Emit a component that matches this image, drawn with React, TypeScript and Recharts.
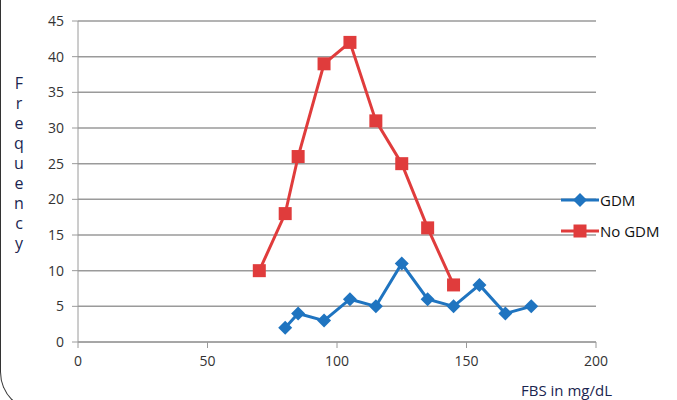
import { LineChart, Line, XAxis, YAxis, CartesianGrid } from "recharts";

const gdmFbs = [80, 85, 95, 105, 115, 125, 135, 145, 155, 165, 175];
const gdmFreq = [2, 4, 3, 6, 5, 11, 6, 5, 8, 4, 5];
const noGdmFbs = [70, 80, 85, 95, 105, 115, 125, 135, 145];
const noGdmFreq = [10, 18, 26, 39, 42, 31, 25, 16, 8];
const xTicks = [0, 50, 100, 150, 200];
const yTicks = [0, 5, 10, 15, 20, 25, 30, 35, 40, 45];
const yLabel = "Frequency";

const BLUE = "#1f74c0";
const RED = "#e03c3c";
const FONT = "'Open Sans', 'DejaVu Sans', sans-serif";

const gdmData = gdmFbs.map((x, i) => ({ x, y: gdmFreq[i] }));
const noGdmData = noGdmFbs.map((x, i) => ({ x, y: noGdmFreq[i] }));

function Diamond(props: any) {
  const { cx, cy } = props;
  if (cx == null || cy == null) return null;
  const r = 7;
  return (
    <polygon
      points={`${cx},${cy - r} ${cx + r},${cy} ${cx},${cy + r} ${cx - r},${cy}`}
      fill={BLUE}
    />
  );
}

function Square(props: any) {
  const { cx, cy } = props;
  if (cx == null || cy == null) return null;
  const h = 6.5;
  return <rect x={cx - h} y={cy - h} width={h * 2} height={h * 2} fill={RED} />;
}

function LegendBox() {
  const row = (label: string, color: string, marker: "d" | "s") => (
    <div style={{ display: "flex", alignItems: "center", height: 31 }}>
      <svg width={38} height={16}>
        <line x1={0} y1={8} x2={38} y2={8} stroke={color} strokeWidth={3} />
        {marker === "d" ? (
          <polygon points="19,1 26,8 19,15 12,8" fill={color} />
        ) : (
          <rect x={12.5} y={1.5} width={13} height={13} fill={color} />
        )}
      </svg>
      <span style={{ fontSize: 15, color: "#111", marginLeft: 1 }}>{label}</span>
    </div>
  );
  return (
    <div style={{ position: "absolute", left: 561, top: 184, fontFamily: FONT }}>
      {row("GDM", BLUE, "d")}
      {row("No GDM", RED, "s")}
    </div>
  );
}

export default function App() {
  return (
    <div
      style={{
        position: "absolute",
        left: 0,
        top: 0,
        width: 677,
        height: 400,
        background: "#fff",
        fontFamily: FONT,
        overflow: "hidden",
      }}
    >
      <div
        style={{
          position: "absolute",
          left: 0,
          top: -40,
          width: 700,
          height: 452,
          borderLeft: "1px solid #333",
          borderBottom: "1px solid #333",
          borderBottomLeftRadius: 40,
          boxSizing: "border-box",
        }}
      />
      <LineChart
        width={677}
        height={400}
        margin={{ top: 21, right: 81, left: 0, bottom: 28 }}
      >
        <CartesianGrid vertical={false} stroke="#9a9a9a" strokeWidth={1.5} />
        <XAxis
          type="number"
          dataKey="x"
          domain={[0, 200]}
          ticks={xTicks}
          height={30}
          stroke="#9a9a9a"
          tickSize={6}
          tickMargin={8}
          tick={{ fill: "#333", fontSize: 14 }}
          allowDuplicatedCategory={false}
        />
        <YAxis
          type="number"
          domain={[0, 45]}
          ticks={yTicks}
          width={78}
          stroke="#9a9a9a"
          tickSize={6}
          tickMargin={8}
          tick={{ fill: "#333", fontSize: 14 }}
        />
        <Line
          data={noGdmData}
          dataKey="y"
          name="No GDM"
          stroke={RED}
          strokeWidth={3}
          dot={<Square />}
          activeDot={false}
          isAnimationActive={false}
        />
        <Line
          data={gdmData}
          dataKey="y"
          name="GDM"
          stroke={BLUE}
          strokeWidth={3}
          dot={<Diamond />}
          activeDot={false}
          isAnimationActive={false}
        />
      </LineChart>
      <LegendBox />
      <div
        style={{
          position: "absolute",
          left: 12,
          top: 73,
          width: 14,
          fontSize: 16,
          lineHeight: "20px",
          color: "#1a2550",
          textAlign: "center",
        }}
      >
        {yLabel.split("").map((c, i) => (
          <div key={i}>{c}</div>
        ))}
      </div>
      <div
        style={{
          position: "absolute",
          left: 521,
          top: 380,
          fontSize: 15,
          color: "#1a2550",
          whiteSpace: "nowrap",
        }}
      >
        FBS in mg/dL
      </div>
    </div>
  );
}
